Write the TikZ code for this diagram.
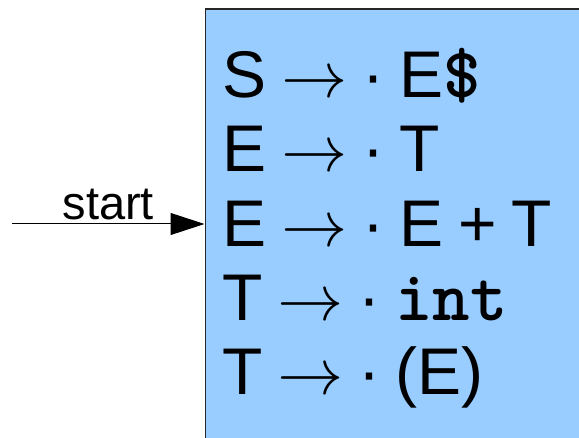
\documentclass[tikz,border=0pt]{standalone}
\usepackage{fontspec}
\setmainfont{Liberation Sans}
\newfontfamily\codefont{lmmonolt10-bold.otf}[Scale=1.08]
\newfontfamily\arrowfont{latinmodern-math.otf}
\newcommand\arw{{\arrowfont →}}
\newcommand\itemfont{\fontsize{66}{74}\selectfont\spaceskip 15pt\relax}
\usetikzlibrary{arrows.meta}

\begin{document}
\begin{tikzpicture}[x=1pt, y=-1pt,
  item/.style={anchor=base west, inner sep=0pt, font=\itemfont},
  arr/.style={-{Triangle[length=34pt, width=22pt]}, line width=1pt, draw=black}
]
  \useasboundingbox (0,0) rectangle (579,438);
  \clip (0,0) rectangle (579,438);
  % State box
  \node[draw=black!85, line width=1.2pt, fill={rgb,255:red,153;green,204;blue,255},
        minimum width=400pt, minimum height=460pt, anchor=north west, inner sep=0pt]
        (state) at (204.5,8.5) {};

  % Items
  \node[item] (i1) at (222,98)  {S \arw{} · E{\codefont\$}};
  \node[item] (i2) at (222,172) {E \arw{} · T};
  \node[item] (i3) at (222,247) {E \arw{} · E + T};
  \node[item] (i4) at (222,321) {T \arw{} · {\codefont int}};
  \node[item] (i5) at (222,395) {T \arw{} · (E)};

  % Start arrow
  \coordinate (entry) at (12,224);
  \draw[arr] (entry) -- (entry -| state.west)
    node[pos=0.5, above=4pt, font=\fontsize{47}{50}\selectfont, inner sep=0pt] (lbl) {start};
\end{tikzpicture}
\end{document}
